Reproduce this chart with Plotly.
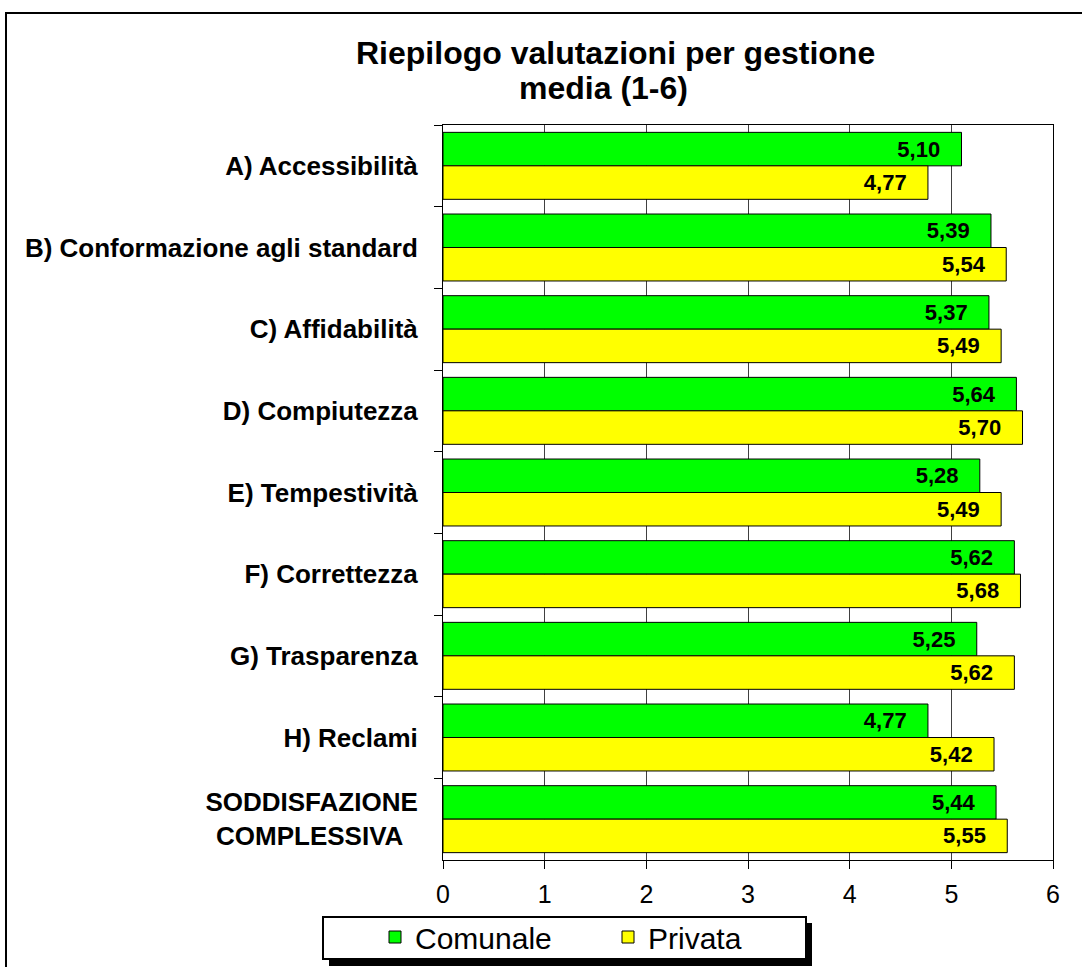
import plotly.graph_objects as go

# Data
categories = [
    "A) Accessibilità",
    "B) Conformazione agli standard",
    "C) Affidabilità",
    "D) Compiutezza",
    "E) Tempestività",
    "F) Correttezza",
    "G) Trasparenza",
    "H) Reclami",
    "SODDISFAZIONE<br>COMPLESSIVA\u00a0\u00a0",
]
comunale = [5.10, 5.39, 5.37, 5.64, 5.28, 5.62, 5.25, 4.77, 5.44]
privata = [4.77, 5.54, 5.49, 5.70, 5.49, 5.68, 5.62, 5.42, 5.55]
x_ticks = [0, 1, 2, 3, 4, 5, 6]
title_lines = ["Riepilogo valutazioni per gestione", "media (1-6)"]

FONT = "Liberation Sans, Arial, sans-serif"

# plot area in pixels (used only to place decorations in paper coords)
W, H = 1082, 967
L, R, T, B = 443, 29, 125, 107
pw, ph = W - L - R, H - T - B


def px_x(p):
    return (p - L) / pw


def px_y(p):
    return (H - B - p) / ph


label_font = dict(family=FONT, size=22, color="black", weight="bold")
pad = "\u00a0\u00a0\u00a0"

fig = go.Figure()
fig.add_trace(go.Bar(
    y=categories, x=comunale, name="Comunale", orientation="h",
    marker=dict(color="#00FF00", line=dict(color="black", width=1)),
    texttemplate="%{x:.2f}" + pad, textposition="inside", insidetextanchor="end",
    textfont=label_font,
))
fig.add_trace(go.Bar(
    y=categories, x=privata, name="Privata", orientation="h",
    marker=dict(color="#FFFF00", line=dict(color="black", width=1)),
    texttemplate="%{x:.2f}" + pad, textposition="inside", insidetextanchor="end",
    textfont=label_font,
))

fig.update_xaxes(
    range=[0, 6], tickvals=x_ticks, ticks="outside", ticklen=8, tickcolor="black",
    ticklabelstandoff=4, automargin=False,
    showline=True, linecolor="black", linewidth=1, mirror=True,
    showgrid=True, gridcolor="#404040", gridwidth=1, zeroline=False,
    tickfont=dict(family=FONT, size=25, color="black"),
)
fig.update_yaxes(
    autorange="reversed", type="category", tickson="boundaries",
    ticks="outside", ticklen=8, tickcolor="black", ticklabelstandoff=19,
    automargin=False,
    showline=True, linecolor="black", linewidth=1, mirror=True, showgrid=False,
    tickfont=dict(family=FONT, size=26, color="black", weight="bold"),
)

# outer frame
fig.add_shape(type="rect", xref="paper", yref="paper",
              x0=px_x(6), x1=px_x(1095), y0=px_y(980), y1=px_y(13),
              line=dict(color="black", width=2), fillcolor="rgba(0,0,0,0)", layer="below")
# legend shadow and box
fig.add_shape(type="rect", xref="paper", yref="paper",
              x0=px_x(329), x1=px_x(812), y0=px_y(966), y1=px_y(923),
              line=dict(width=0), fillcolor="black", layer="above")
fig.add_shape(type="rect", xref="paper", yref="paper",
              x0=px_x(323), x1=px_x(806), y0=px_y(959), y1=px_y(917),
              line=dict(color="black", width=2), fillcolor="white", layer="above")

# two-line title
for text, cx, cy in zip(title_lines, [615, 603], [53, 88]):
    fig.add_annotation(
        text=text, xref="paper", yref="paper", x=px_x(cx), y=px_y(cy),
        xanchor="center", yanchor="middle", showarrow=False,
        font=dict(family=FONT, size=32, color="black", weight="bold"),
    )

fig.update_layout(
    width=W, height=H,
    margin=dict(l=L, r=R, t=T, b=B, autoexpand=False),
    paper_bgcolor="white", plot_bgcolor="white",
    separators=",.",
    barmode="group", bargap=0.18, bargroupgap=0,
    legend=dict(
        orientation="h", x=px_x(375), xanchor="left", y=px_y(911), yanchor="top",
        bgcolor="rgba(0,0,0,0)", borderwidth=0,
        font=dict(family=FONT, size=30, color="black"),
        entrywidth=188, traceorder="normal",
    ),
    font=dict(family=FONT, color="black"),
)

fig.write_html("out.html", config={"displayModeBar": False},
               post_script="document.body.style.margin='0';")
